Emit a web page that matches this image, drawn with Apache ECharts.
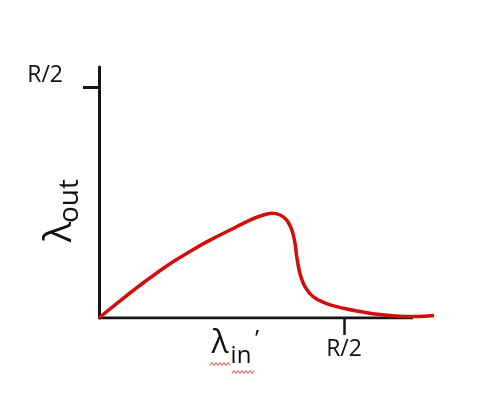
<!DOCTYPE html>
<html>
<head>
<meta charset="utf-8">
<script src="https://cdn.jsdelivr.net/npm/echarts@6/dist/echarts.min.js"></script>
<style>html,body{margin:0;padding:0;background:#fff;}#c{width:478px;height:398px;}</style>
</head>
<body>
<div id="c"></div>
<script>
// x in units of R/2, y in units of R/2
var xValues = [0, 0.100, 0.188, 0.290, 0.392, 0.453, 0.535, 0.616, 0.671, 0.705, 0.739, 0.766, 0.787, 0.800, 0.807, 0.820, 0.841, 0.875, 0.929, 0.997, 1.065, 1.127, 1.208, 1.290, 1.367];
var yValues = [0, 0.086, 0.158, 0.235, 0.301, 0.337, 0.381, 0.424, 0.446, 0.453, 0.446, 0.424, 0.381, 0.323, 0.265, 0.193, 0.135, 0.091, 0.062, 0.042, 0.028, 0.017, 0.009, 0.006, 0.011];
var xTicks = [1];
var yTicks = [1];
var tickLabel = 'R/2';
var xAxisEnd = 1.2816;   // where the drawn x-axis line stops
var xMax = 1.367;
var yMax = 1.0866;

var FONT = '"Open Sans", "Liberation Sans", sans-serif';
var data = xValues.map(function (x, i) { return [x, yValues[i]]; });

// spell-check squiggle decorations
function squiggle(x0, x1, y) {
  var pts = [], k = 0;
  for (var x = x0; x <= x1; x += 2) { pts.push([x, y + (k % 2 ? -1.5 : 1.5)]); k++; }
  return pts;
}

var chart = echarts.init(document.getElementById('c'), null, {renderer: 'canvas'});
chart.setOption({
  animation: false,
  backgroundColor: '#fff',
  grid: {left: 99, top: 67, right: 44, bottom: 80, containLabel: false},
  xAxis: {
    type: 'value', min: 0, max: xMax,
    splitLine: {show: false},
    axisLine: {show: false},
    axisTick: {show: true, customValues: xTicks, length: 17, lineStyle: {color: '#151515', width: 2.5}},
    axisLabel: {show: true, customValues: xTicks, formatter: function () { return tickLabel; }, margin: 20,
      fontFamily: FONT, fontSize: 23, color: '#111'}
  },
  yAxis: {
    type: 'value', min: 0, max: yMax,
    splitLine: {show: false},
    axisLine: {show: true, onZero: false, lineStyle: {color: '#151515', width: 3}},
    axisTick: {show: true, customValues: yTicks, length: 16, lineStyle: {color: '#151515', width: 3}},
    axisLabel: {show: true, customValues: yTicks, formatter: function () { return tickLabel; }, margin: 36,
      verticalAlign: 'bottom', fontFamily: FONT, fontSize: 23, color: '#111'}
  },
  series: [{
    type: 'line', data: [[0, 0], [xAxisEnd, 0]], showSymbol: false, silent: true, z: 1,
    lineStyle: {color: '#151515', width: 3}
  }, {
    type: 'line', data: data, smooth: 0.35, showSymbol: false, z: 3,
    lineStyle: {color: '#d50c0c', width: 3.5}
  }],
  graphic: [
    {type: 'text', x: 60, y: 232, rotation: Math.PI / 2,
      style: {text: 'λ', font: '38px ' + FONT, fill: '#111', align: 'center', verticalAlign: 'middle'}},
    {type: 'text', x: 70, y: 201, rotation: Math.PI / 2,
      style: {text: 'out', font: '28px ' + FONT, fill: '#111', align: 'center', verticalAlign: 'middle'}},
    {type: 'text', x: 220, y: 344,
      style: {text: 'λ', font: '32px ' + FONT, fill: '#111', align: 'center', verticalAlign: 'middle'}},
    {type: 'text', x: 241, y: 356,
      style: {text: 'in', font: '24px ' + FONT, fill: '#111', align: 'center', verticalAlign: 'middle'}},
    {type: 'text', x: 257, y: 340,
      style: {text: '’', font: '24px ' + FONT, fill: '#111', align: 'center', verticalAlign: 'middle'}},
    {type: 'polyline', shape: {points: squiggle(210, 230, 364)}, style: {stroke: '#ee4444', lineWidth: 1, fill: null}},
    {type: 'polyline', shape: {points: squiggle(232, 255, 372)}, style: {stroke: '#ee4444', lineWidth: 1, fill: null}}
  ]
});
</script>
</body>
</html>
